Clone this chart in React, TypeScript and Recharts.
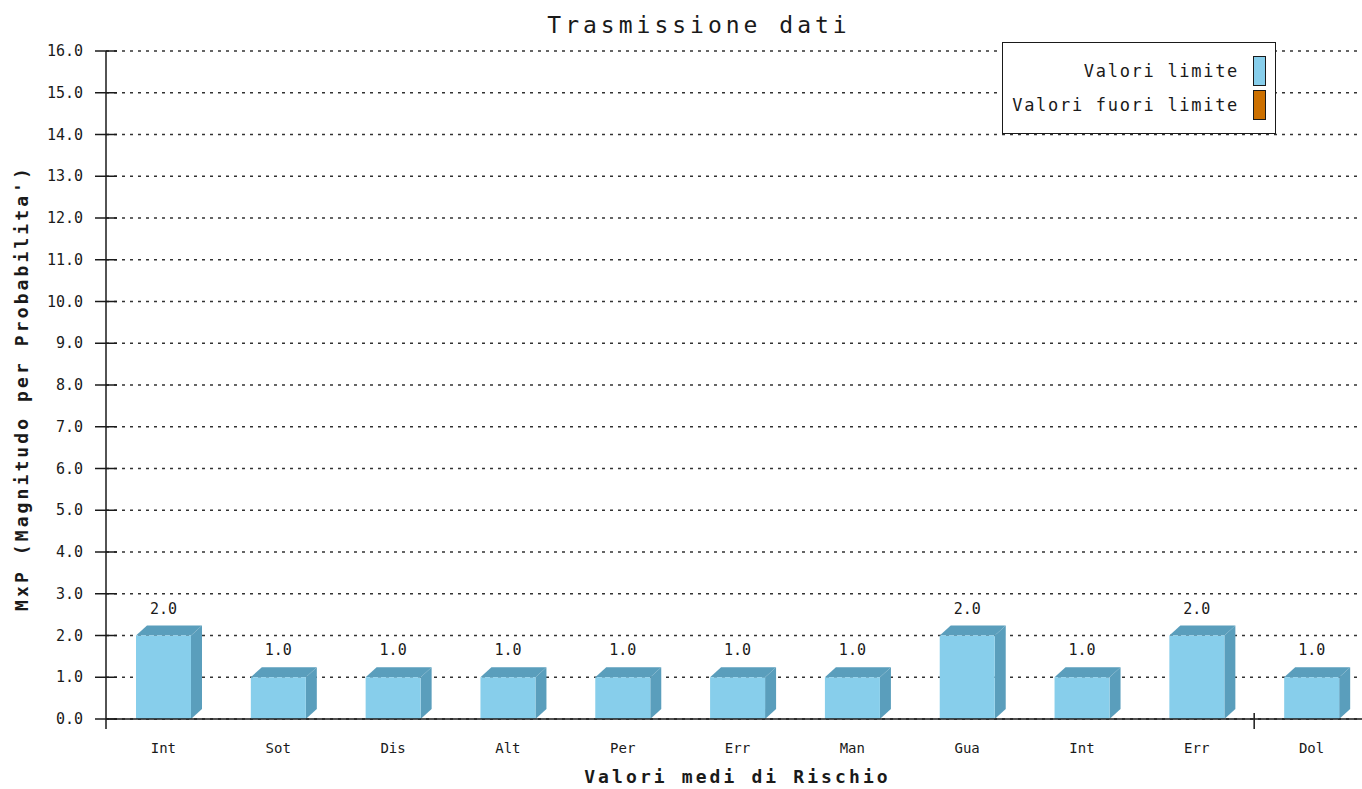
import React from 'react';
import { BarChart, Bar, XAxis, YAxis, CartesianGrid, Legend, LabelList } from 'recharts';

const categories = ['Int', 'Sot', 'Dis', 'Alt', 'Per', 'Err', 'Man', 'Gua', 'Int', 'Err', 'Dol'];
const valoriLimite = [2, 1, 1, 1, 1, 1, 1, 2, 1, 2, 1];
const valoriFuoriLimite = [null, null, null, null, null, null, null, null, null, null, null];
const yTicks = [0, 1, 2, 3, 4, 5, 6, 7, 8, 9, 10, 11, 12, 13, 14, 15, 16];

const seriesNames = ['Valori limite', 'Valori fuori limite'];
const seriesColors = ['#87CEEB', '#CC7000'];
const seriesShade = ['#5A9EBC', '#8F4E00'];

const data = categories.map((c, i) => ({
  name: c,
  limite: valoriLimite[i],
  fuori: valoriFuoriLimite[i],
}));

const FONT = '"DejaVu Sans Mono", "Liberation Mono", monospace';
const INK = '#1a1a1a';

function make3D(shade: string) {
  return function Bar3D(props: any) {
    const { x, y, width, height, fill } = props;
    if (!height || height <= 0) return null;
    const dx = 11;
    const dy = 10;
    const top = `${x},${y} ${x + dx},${y - dy} ${x + width + dx},${y - dy} ${x + width},${y}`;
    const side = `${x + width},${y} ${x + width + dx},${y - dy} ${x + width + dx},${y + height - dy} ${x + width},${y + height}`;
    return (
      <g>
        <polygon points={top} fill={shade} />
        <polygon points={side} fill={shade} />
        <rect x={x} y={y} width={width} height={height} fill={fill} />
      </g>
    );
  };
}

function ValueLabel(props: any) {
  const { x, y, width, value } = props;
  let v = value;
  if (Array.isArray(v)) v = v[1] - v[0];
  if (v === null || v === undefined) return null;
  return (
    <text x={x + width / 2} y={y - 22} textAnchor="middle" fontFamily={FONT} fontSize={15} fill={INK}>
      {Number(v).toFixed(1)}
    </text>
  );
}

function YTick(props: any) {
  const { x, y, payload } = props;
  return (
    <g>
      <line x1={x - 11} x2={x + 11} y1={y} y2={y} stroke={INK} strokeWidth={1.5} />
      {payload.value === 0 && <line x1={x} x2={x} y1={y} y2={y + 10} stroke={INK} strokeWidth={1.5} />}
      <text x={x - 23} y={y + 5} textAnchor="end" fontFamily={FONT} fontSize={15} fill={INK}>
        {Number(payload.value).toFixed(1)}
      </text>
    </g>
  );
}

function XTick(props: any) {
  const { x, y, payload, index, width, visibleTicksCount } = props;
  const band = width / (visibleTicksCount || categories.length);
  return (
    <g>
      {index === categories.length - 1 && (
        <line x1={x - band / 2} x2={x - band / 2} y1={y - 6} y2={y + 10} stroke={INK} strokeWidth={1.5} />
      )}
      <text x={x} y={y + 34} textAnchor="middle" fontFamily={FONT} fontSize={14} fill={INK}>
        {payload.value}
      </text>
    </g>
  );
}

function LegendBox(props: any) {
  const payload = [...(props.payload || [])].sort(
    (a: any, b: any) => seriesNames.indexOf(a.value) - seriesNames.indexOf(b.value)
  );
  return (
    <div
      style={{
        width: 274,
        height: 92,
        border: `1.5px solid ${INK}`,
        background: '#fff',
        boxSizing: 'border-box',
        position: 'relative',
      }}
    >
      {payload.map((p: any, i: number) => (
        <div key={i} style={{ position: 'absolute', left: 0, top: 13 + i * 34, width: 274, height: 31 }}>
          <span
            style={{
              position: 'absolute',
              right: 38,
              top: 5,
              fontFamily: FONT,
              fontSize: 17,
              letterSpacing: 1.7,
              lineHeight: '20px',
              color: INK,
              whiteSpace: 'nowrap',
            }}
          >
            {p.value}
          </span>
          <span
            style={{
              position: 'absolute',
              left: 250,
              top: 0,
              width: 13,
              height: 30,
              background: p.color,
              border: `1.5px solid ${INK}`,
              boxSizing: 'border-box',
            }}
          />
        </div>
      ))}
    </div>
  );
}

export default function App() {
  return (
    <div
      style={{
        position: 'absolute',
        left: 0,
        top: 0,
        width: 1362,
        height: 789,
        overflow: 'hidden',
        background: '#fff',
      }}
    >
      <div
        style={{
          position: 'absolute',
          left: 0,
          top: 14,
          width: 1398,
          textAlign: 'center',
          fontFamily: FONT,
          fontSize: 23,
          letterSpacing: 4,
          lineHeight: '23px',
          color: INK,
          zIndex: 2,
        }}
      >
        Trasmissione dati
      </div>
      <BarChart
        width={1369}
        height={789}
        data={data}
        margin={{ top: 51, right: 0, bottom: 0, left: 0 }}
      >
        <CartesianGrid vertical={false} stroke="#333" strokeWidth={1.5} strokeDasharray="3 5" />
        <XAxis
          dataKey="name"
          height={70}
          interval={0}
          tickLine={false}
          tickSize={0}
          tickMargin={0}
          axisLine={{ stroke: INK, strokeWidth: 1.5 }}
          tick={<XTick />}
          label={{
            content: (p: any) => {
              const vb = p.viewBox || { x: 106, width: 1263 };
              return (
                <text
                  x={vb.x + vb.width / 2}
                  y={783}
                  textAnchor="middle"
                  fontFamily={FONT}
                  fontSize={18}
                  fontWeight="bold"
                  letterSpacing={3.1}
                  fill={INK}
                >
                  Valori medi di Rischio
                </text>
              );
            },
          }}
        />
        <YAxis
          width={106}
          domain={[0, 16]}
          ticks={yTicks}
          interval={0}
          tickLine={false}
          tickSize={0}
          tickMargin={0}
          axisLine={{ stroke: INK, strokeWidth: 1.5 }}
          tick={<YTick />}
          label={{
            content: (p: any) => {
              const vb = p.viewBox || { y: 51, height: 668 };
              const cy = vb.y + vb.height / 2 + 3;
              return (
                <text
                  x={28}
                  y={cy}
                  transform={`rotate(-90, 28, ${cy})`}
                  textAnchor="middle"
                  fontFamily={FONT}
                  fontSize={18}
                  fontWeight="bold"
                  letterSpacing={3.1}
                  fill={INK}
                >
                  MxP (Magnitudo per Probabilita')
                </text>
              );
            },
          }}
        />
        <Legend
          layout="horizontal"
          verticalAlign="middle"
          align="center"
          wrapperStyle={{ position: 'absolute', left: 1002, top: 42, width: 274, height: 92 }}
          content={<LegendBox />}
        />
        <Bar
          dataKey="limite"
          name={seriesNames[0]}
          stackId="a"
          fill={seriesColors[0]}
          barSize={55}
          shape={make3D(seriesShade[0])}
          isAnimationActive={false}
        >
          <LabelList dataKey="limite" content={<ValueLabel />} />
        </Bar>
        <Bar
          dataKey="fuori"
          name={seriesNames[1]}
          stackId="a"
          fill={seriesColors[1]}
          barSize={55}
          shape={make3D(seriesShade[1])}
          isAnimationActive={false}
        />
      </BarChart>
    </div>
  );
}
